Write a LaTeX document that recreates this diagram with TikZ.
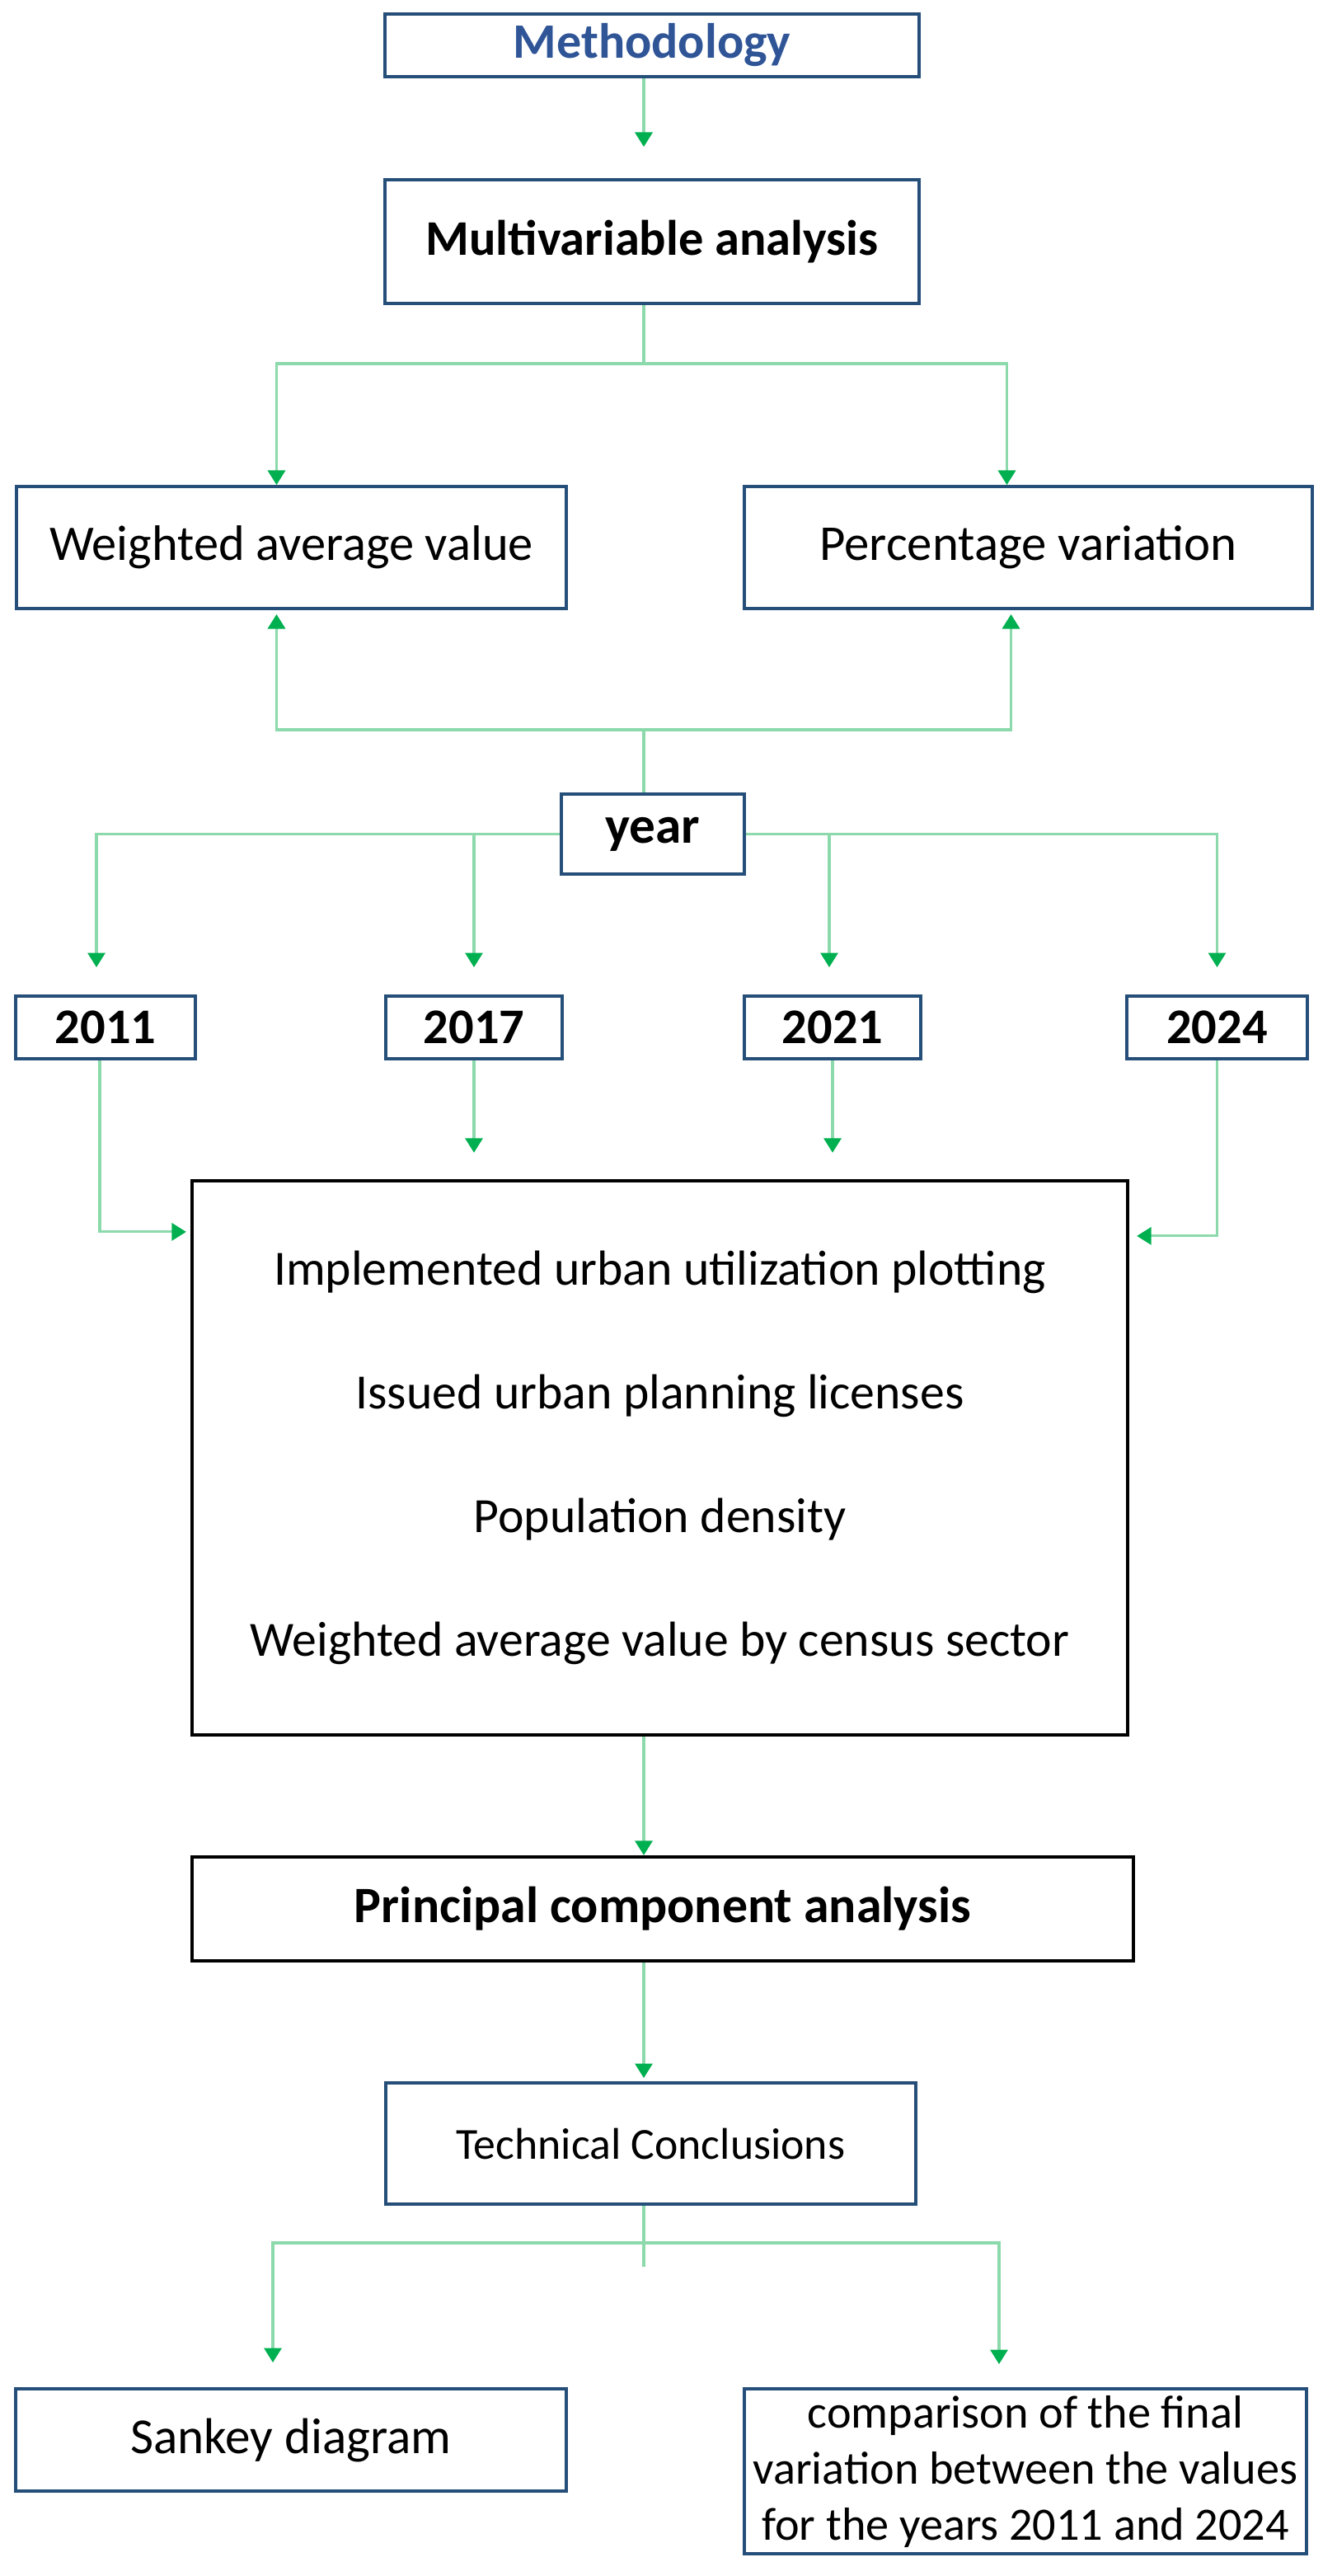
\documentclass[tikz,border=0pt]{standalone}
\usepackage{fontspec}
\setmainfont{Carlito}
\usepackage{tikz}
\usetikzlibrary{arrows.meta,calc}

\definecolor{boxblue}{RGB}{37,78,121}
\definecolor{titleblue}{RGB}{47,85,151}
\definecolor{linkgreen}{RGB}{140,218,172}
\definecolor{tipgreen}{RGB}{0,176,80}

\begin{document}
\begin{tikzpicture}[
    box/.style={draw=boxblue, line width=1.1pt, inner sep=0pt, align=center},
    bigbox/.style={draw=black, line width=1.2pt, inner sep=0pt, align=center},
    link/.style={draw=linkgreen, line width=0.9pt},
    arr/.style={link, -{Triangle[width=6pt,length=5pt,color=tipgreen]}},
  ]
  \useasboundingbox (0,0) rectangle (16.04,-31.24);

  \node[box, minimum width=6.48cm, minimum height=0.76cm, text=titleblue,
        font=\fontsize{17.1}{20}\selectfont\bfseries] (meth) at (7.91,-0.55) {Methodology};
  \node[box, minimum width=6.48cm, minimum height=1.50cm,
        font=\fontsize{17.2}{20}\selectfont\bfseries] (multi) at (7.91,-2.93) {Multivariable analysis};

  \node[box, minimum width=6.67cm, minimum height=1.48cm,
        font=\fontsize{17.2}{20}\selectfont] (wav) at (3.535,-6.64) {Weighted average value};
  \node[box, minimum width=6.89cm, minimum height=1.48cm,
        font=\fontsize{17.3}{20}\selectfont] (pv) at (12.475,-6.64) {Percentage variation};

  \node[box, minimum width=2.22cm, minimum height=0.97cm,
        font=\fontsize{18}{21}\selectfont\bfseries] (year) at (7.92,-10.115) {year};

  \node[box, minimum width=2.18cm, minimum height=0.76cm,
        font=\fontsize{17.2}{20}\selectfont\bfseries] (y2011) at (1.28,-12.46) {2011};
  \node[box, minimum width=2.14cm, minimum height=0.76cm,
        font=\fontsize{17.2}{20}\selectfont\bfseries] (y2017) at (5.75,-12.46) {2017};
  \node[box, minimum width=2.14cm, minimum height=0.76cm,
        font=\fontsize{17.2}{20}\selectfont\bfseries] (y2021) at (10.10,-12.46) {2021};
  \node[box, minimum width=2.19cm, minimum height=0.76cm,
        font=\fontsize{17.2}{20}\selectfont\bfseries] (y2024) at (14.765,-12.46) {2024};

  \node[bigbox, minimum width=11.35cm, minimum height=6.72cm,
        font=\fontsize{17}{42.7}\selectfont] (vars) at (8.005,-17.68)
        {Implemented urban utilization plotting\\
         Issued urban planning licenses\\
         Population density\\
         Weighted average value by census sector};

  \node[bigbox, minimum width=11.42cm, minimum height=1.26cm,
        font=\fontsize{17.6}{21}\selectfont\bfseries] (pca) at (8.04,-23.15) {Principal component analysis};

  \node[box, minimum width=6.43cm, minimum height=1.47cm,
        font=\fontsize{15.3}{18}\selectfont] (tech) at (7.895,-25.995) {Technical Conclusions};

  \node[box, minimum width=6.68cm, minimum height=1.24cm,
        font=\fontsize{17.4}{20}\selectfont] (sankey) at (3.53,-29.59) {Sankey diagram};
  \node[box, minimum width=6.82cm, minimum height=2.00cm,
        font=\fontsize{16}{19.35}\selectfont] (comp) at (12.44,-29.97)
        {comparison of the final\\
         variation between the values\\
         for the years 2011 and 2024};

  \coordinate (spine) at (7.81,0);

  \draw[arr, shorten >=0.38cm] (meth.south -| spine) -- (multi.north -| spine) {};
  \draw[arr] (multi.south -| spine) -- ++(0,-0.71) -| ($(wav.north)+(-0.18,0)$) {};
  \draw[arr] (multi.south -| spine) -- ++(0,-0.71) -| ($(pv.north)+(-0.26,0)$) {};

  \draw[arr, shorten >=0.05cm] (year.north -| spine) -- ++(0,0.76) -| ($(wav.south)+(-0.18,0)$) {};
  \draw[arr, shorten >=0.05cm] (year.north -| spine) -- ++(0,0.76) -| ($(pv.south)+(-0.21,0)$) {};

  \draw[arr, shorten >=0.33cm] (year.west) -| ($(y2011.north)+(-0.11,0)$) {};
  \draw[arr, shorten >=0.33cm] (year.west) -| (y2017.north) {};
  \draw[arr, shorten >=0.33cm] (year.east) -| ($(y2021.north)+(-0.04,0)$) {};
  \draw[arr, shorten >=0.33cm] (year.east) -| (y2024.north) {};

  \draw[arr, shorten >=0.05cm] ($(y2011.south)+(-0.07,0)$) |- ($(vars.north west)+(0,-0.64)$) {};
  \draw[arr, shorten >=0.32cm] (y2017.south) -- (y2017.south |- vars.north) {};
  \draw[arr, shorten >=0.32cm] (y2021.south) -- (y2021.south |- vars.north) {};
  \draw[arr, shorten >=0.09cm] (y2024.south) |- ($(vars.north east)+(0,-0.69)$) {};

  \draw[arr] (vars.south -| spine) -- (pca.north -| spine) {};
  \draw[arr, shorten >=0.04cm] (pca.south -| spine) -- (tech.north -| spine) {};

  \draw[link] (tech.south -| spine) -- ++(0,-0.74) {};
  \draw[arr, shorten >=0.30cm] (tech.south -| spine) -- ++(0,-0.45) -| ($(sankey.north)+(-0.22,0)$) {};
  \draw[arr, shorten >=0.28cm] (tech.south -| spine) -- ++(0,-0.45) -| ($(comp.north)+(-0.32,0)$) {};
\end{tikzpicture}
\end{document}
